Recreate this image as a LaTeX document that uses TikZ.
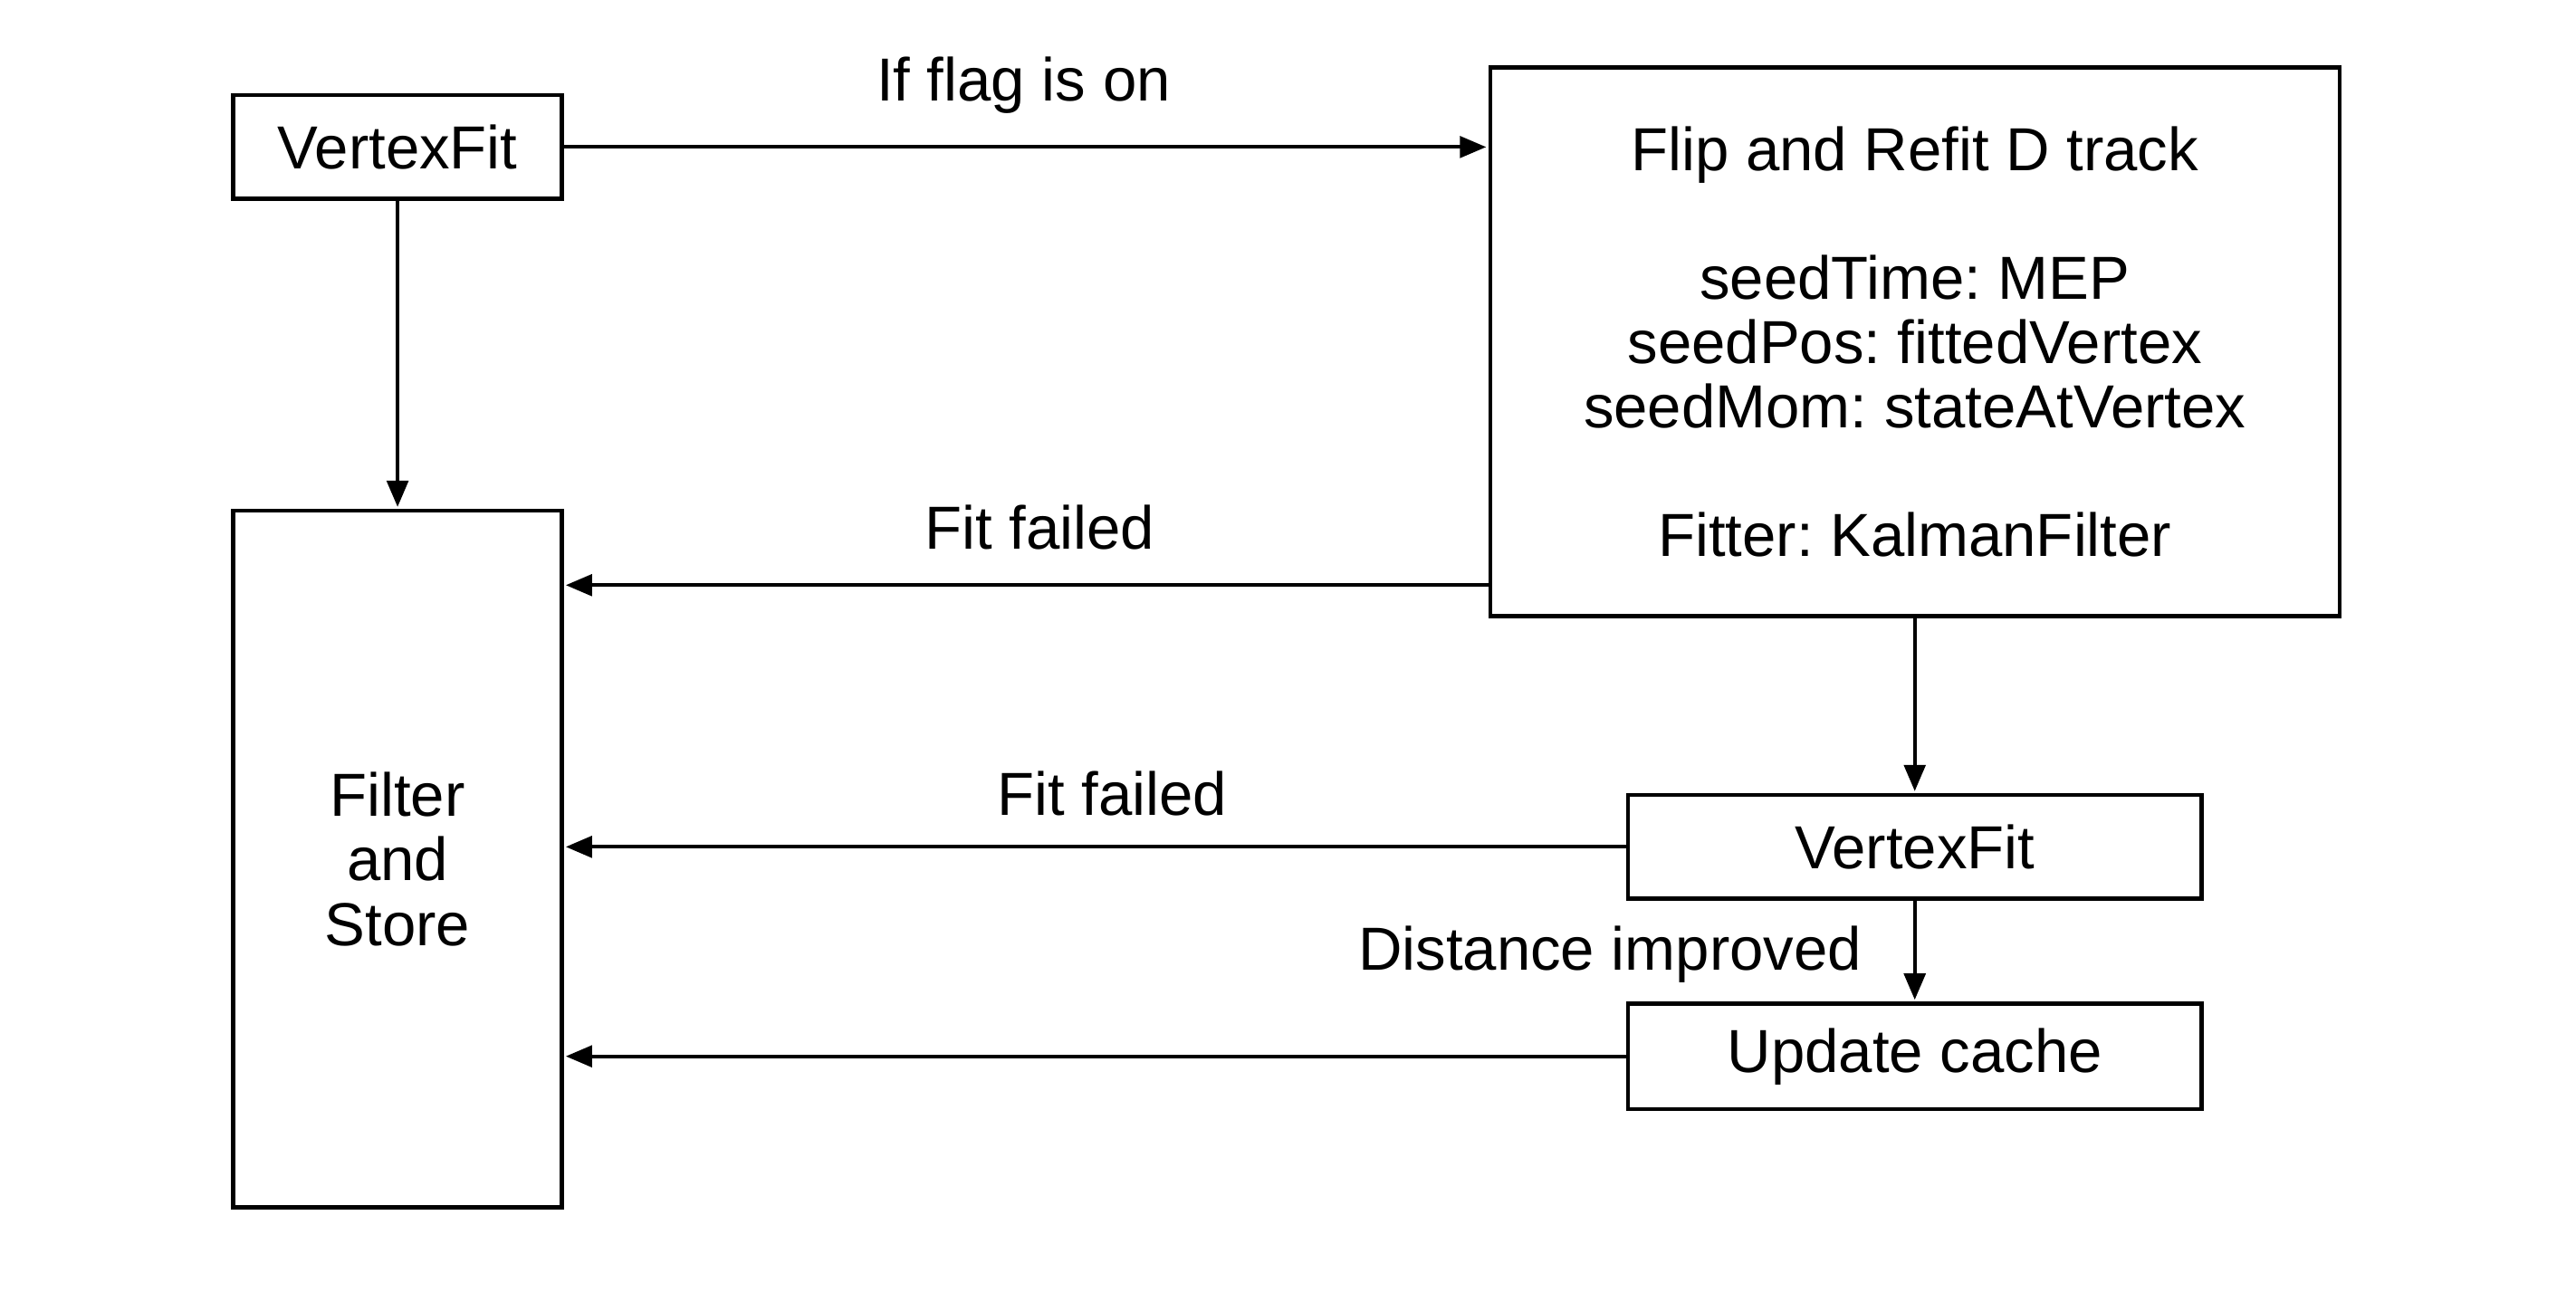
\documentclass[tikz,border=0pt]{standalone}
\usepackage{fontspec}
\setmainfont{Liberation Sans}
\usetikzlibrary{arrows.meta}
\frenchspacing
\begin{document}
\begin{tikzpicture}[x=1pt,y=1pt,
  box/.style={draw,line width=1.2pt,inner sep=0pt,align=center,font=\fontsize{18.5}{19.6}\selectfont},
  conn/.style={line width=1.1pt,-{Triangle[length=8pt,width=6.5pt]},shorten >=0.6pt},
  lbl/.style={anchor=base,inner sep=0pt,font=\fontsize{18.5}{19.6}\selectfont}]
\useasboundingbox[fill=white] (0,0) rectangle (784,-393.2);
\node[box,minimum width=100pt,minimum height=31.5pt] (vf1) at (121,-44.75) {VertexFit};
\node[box,minimum width=258.5pt,minimum height=167pt] (flip) at (582.75,-104)
  {Flip and Refit D track\\ \mbox{}\\ seedTime: MEP\\ seedPos: fittedVertex\\ seedMom: stateAtVertex\\ \mbox{}\\ Fitter: KalmanFilter};
\node[box,minimum width=100pt,minimum height=212pt] (fs) at (121,-261.5) {Filter\\and\\Store};
\node[box,minimum width=174.5pt,minimum height=31.5pt] (vf2) at (582.75,-257.75) {VertexFit};
\node[box,minimum width=174.5pt,minimum height=32pt] (uc) at (582.75,-321.5) {Update cache};
\draw[conn] (vf1.east) -- (vf1.east -| flip.west);
\draw[conn] (vf1.south) -- (fs.north);
\draw[conn] ([yshift=10pt]flip.south west) -- ([yshift=10pt]flip.south west -| fs.east);
\draw[conn] (flip.south) -- (vf2.north);
\draw[conn] (vf2.west) -- (vf2.west -| fs.east);
\draw[conn] (vf2.south) -- (uc.north);
\draw[conn] (uc.west) -- (uc.west -| fs.east);
\node[lbl] (l1) at (311.5,-30.6) {If flag is on};
\node[lbl] (l2) at (316.5,-167) {Fit failed};
\node[lbl] (l3) at (338.5,-248.2) {Fit failed};
\node[lbl] (l4) at (490,-295.4) {Distance improved};
\end{tikzpicture}
\end{document}
